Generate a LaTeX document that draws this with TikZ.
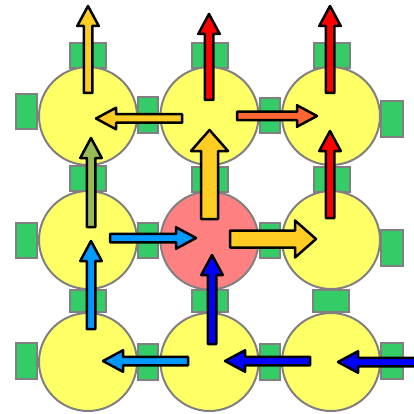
\documentclass[tikz,border=0pt]{standalone}
\definecolor{cellyellow}{HTML}{FFFF66}
\definecolor{cellred}{HTML}{FF8080}
\definecolor{portgreen}{HTML}{33CC66}
\definecolor{rimgray}{HTML}{808080}
\definecolor{ayellow}{HTML}{FFCC22}
\definecolor{ared}{HTML}{FF0000}
\definecolor{aorange}{HTML}{FF6633}
\definecolor{aolive}{HTML}{99BB55}
\definecolor{alblue}{HTML}{0099FF}
\definecolor{adblue}{HTML}{0000FF}
\tikzset{
  cell/.style={circle, draw=rimgray, line width=2pt, fill=cellyellow, minimum size=98pt, inner sep=0pt},
  vport/.style={rectangle, draw=rimgray, line width=2pt, fill=portgreen, minimum width=36pt, minimum height=#1, inner sep=0pt},
  hport/.style={rectangle, draw=rimgray, line width=2pt, fill=portgreen, minimum height=35.5pt, minimum width=#1, inner sep=0pt},
  arrowline/.style={draw=black, line width=2.5pt, line join=round}
}
\newcommand{\thinarr}[4]{%
  \draw[arrowline, fill=#1, shift={#2}, rotate=#3]
    (0,-4.25) -- ({#4-21},-4.25) -- ({#4-21},-10.75) -- ({#4-1},0)
    -- ({#4-21},10.75) -- ({#4-21},4.25) -- (0,4.25) -- cycle;}
\newcommand{\thickarr}[4]{%
  \draw[arrowline, fill=#1, shift={#2}, rotate=#3]
    (0,-8.5) -- ({#4-22},-8.5) -- ({#4-22},-18.5) -- ({#4-1},0)
    -- ({#4-22},18.5) -- ({#4-22},8.5) -- (0,8.5) -- cycle;}
\begin{document}
\begin{tikzpicture}[x=1pt, y=-1pt]
\useasboundingbox (0,0) rectangle (414,414);
\clip (0,0) rectangle (414,414);
% ports (drawn behind the cells)
\node[vport=24.5pt] (pt1) at (88,55.5) {};
\node[vport=24.5pt] (pt2) at (209.5,55.5) {};
\node[vport=24.5pt] (pt3) at (331.5,55.5) {};
\node[vport=25pt] (pv1) at (88,178.5) {};
\node[vport=25pt] (pv2) at (209.5,179) {};
\node[vport=25pt] (pv3) at (331.5,179) {};
\node[vport=22pt] (pw1) at (88,300.5) {};
\node[vport=22pt] (pw2) at (209.5,300.5) {};
\node[vport=22pt] (pw3) at (331,300.5) {};
\node[hport=21.5pt] (pl1) at (26.5,111.5) {};
\node[hport=21.5pt] (pl2) at (26.5,240.5) {};
\node[hport=21.5pt] (pl3) at (26.5,361) {};
\node[hport=20.5pt] (ph1) at (148,115) {};
\node[hport=20.5pt] (ph2) at (148,240.5) {};
\node[hport=20.5pt] (ph3) at (148,362) {};
\node[hport=20.5pt] (pi1) at (270,115.5) {};
\node[hport=20.5pt] (pi2) at (270,240.5) {};
\node[hport=20.5pt] (pi3) at (270,362) {};
\node[hport=22pt] (pr1) at (392,119) {};
\node[hport=22pt] (pr2) at (392,248) {};
\node[hport=22pt] (pr3) at (392,361) {};
% cells
\node[cell] (c11) at (88,116) {};
\node[cell] (c12) at (209.5,116) {};
\node[cell] (c13) at (331,116) {};
\node[cell] (c21) at (88,240) {};
\node[cell, fill=cellred] (c22) at (209.5,240.5) {};
\node[cell] (c23) at (331,240) {};
\node[cell] (c31) at (88,362) {};
\node[cell] (c32) at (209.5,362) {};
\node[cell] (c33) at (331,362) {};
% arrows
\thinarr{ayellow}{(88,93)}{90}{88}
\thinarr{ared}{(209,100)}{90}{87}
\thinarr{ared}{(330,93)}{90}{88}
\thinarr{ayellow}{(182,118.5)}{180}{87}
\thinarr{aorange}{(237,116)}{0}{81}
\thinarr{aolive}{(91,227)}{90}{90}
\thickarr{ayellow}{(209.5,219)}{90}{90}
\thinarr{ared}{(330,218)}{90}{88}
\thinarr{alblue}{(110,238)}{0}{87}
\thickarr{ayellow}{(230,239)}{0}{87}
\thinarr{alblue}{(91,329)}{90}{89}
\thinarr{adblue}{(212,344)}{90}{90}
\thinarr{alblue}{(188,361)}{180}{86}
\thinarr{adblue}{(310,361)}{180}{86}
\thinarr{adblue}{(425,362)}{180}{88}
\end{tikzpicture}
\end{document}
